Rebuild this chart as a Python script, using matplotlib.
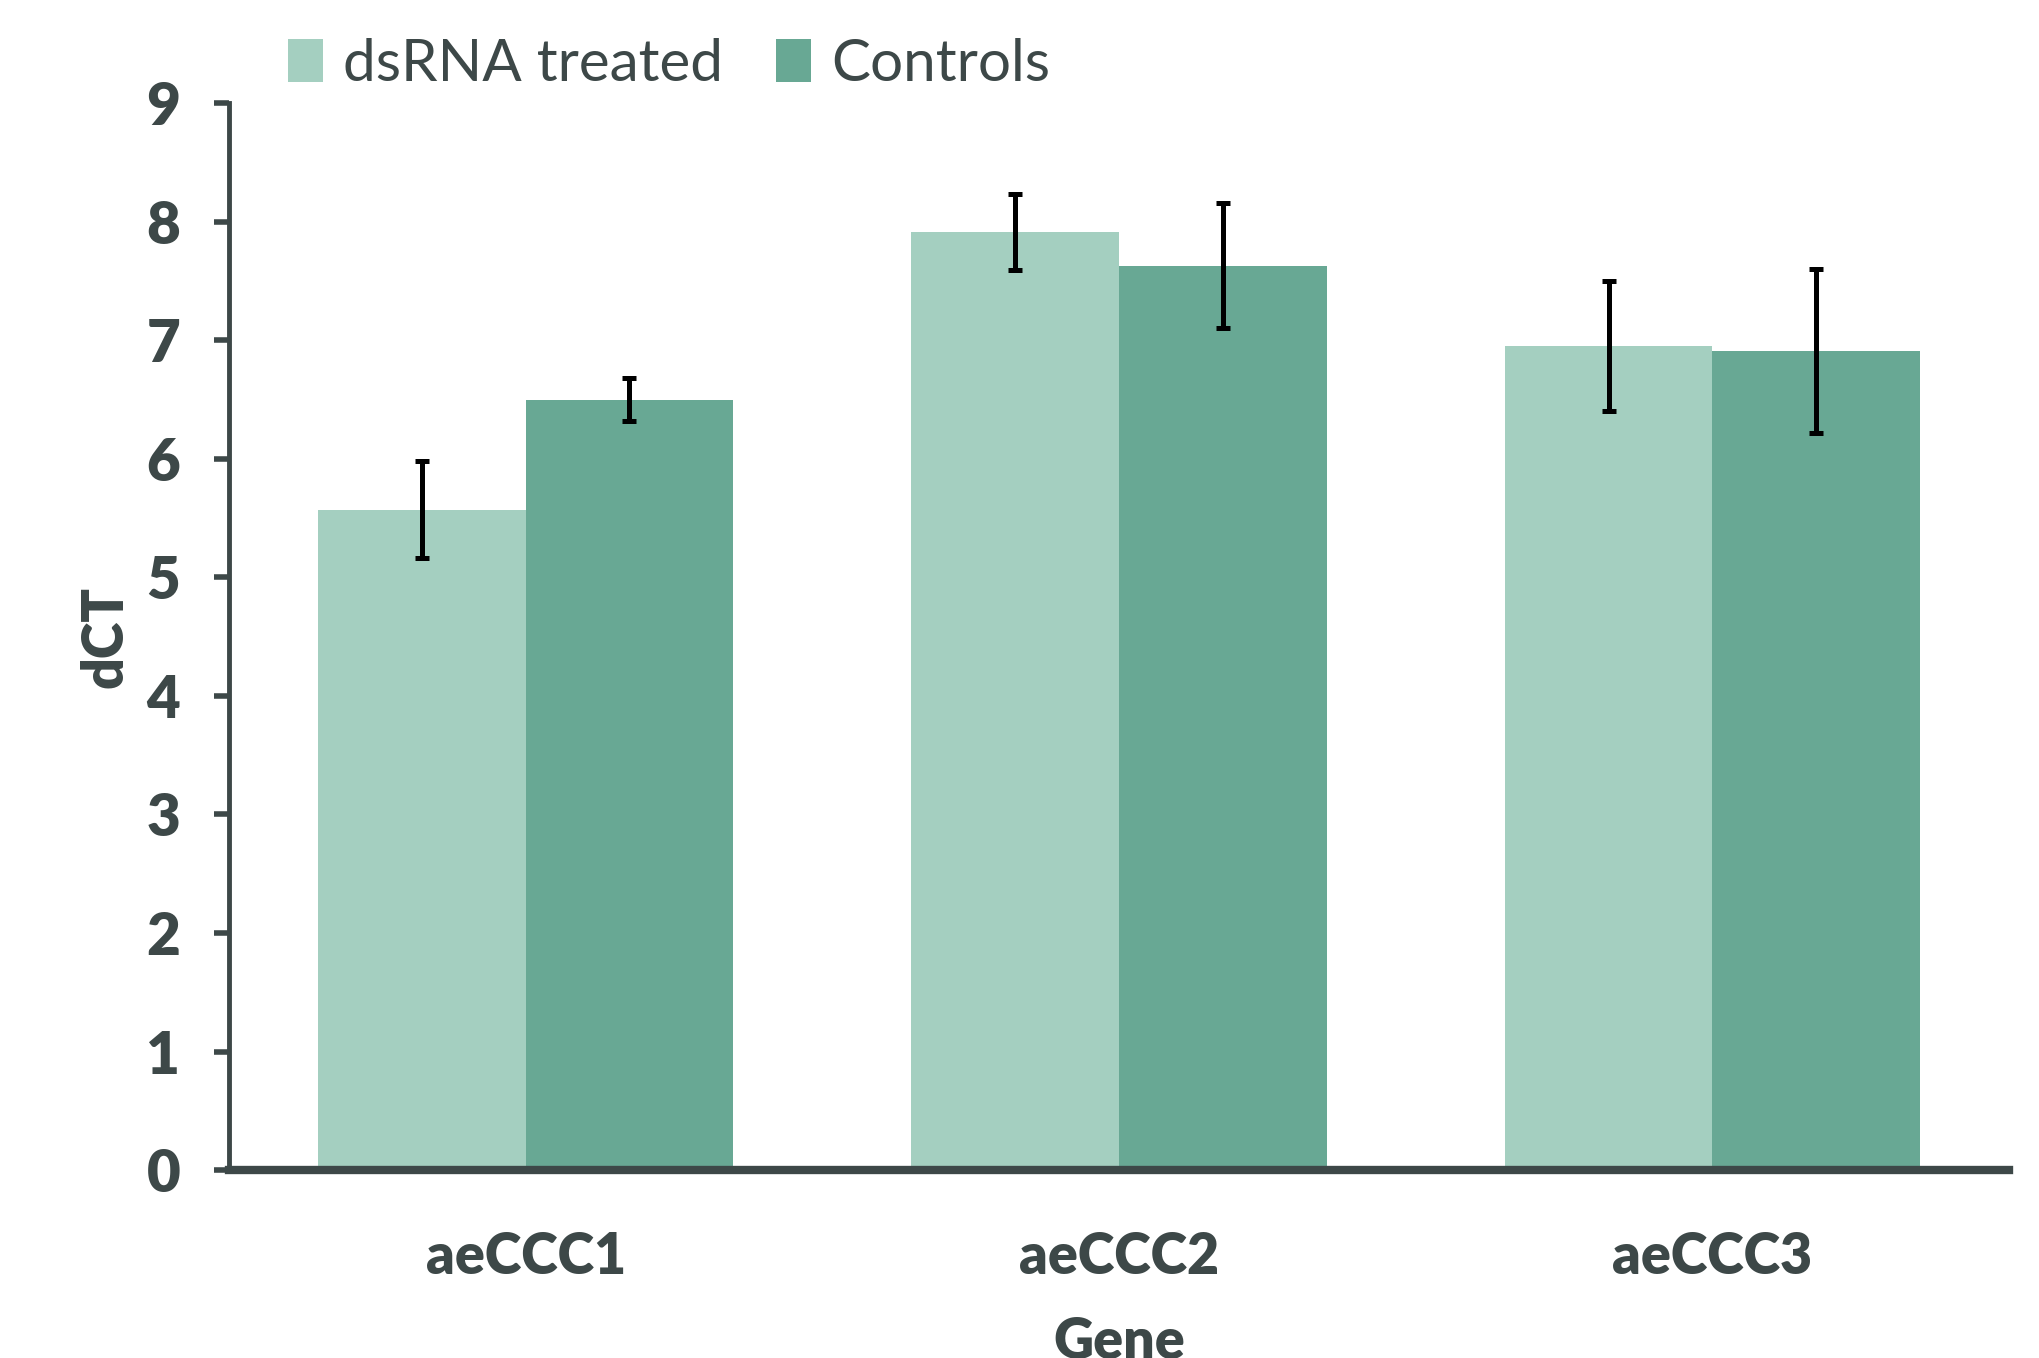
import matplotlib
matplotlib.use("Agg")
import matplotlib.pyplot as plt
import numpy as np

genes = ["aeCCC1", "aeCCC2", "aeCCC3"]
series_names = ["dsRNA treated", "Controls"]
treated = [5.57, 7.91, 6.95]
treated_err = [0.41, 0.32, 0.55]
controls = [6.50, 7.63, 6.91]
controls_err = [0.18, 0.53, 0.69]
yticks = [0, 1, 2, 3, 4, 5, 6, 7, 8, 9]

plt.rcParams['font.family'] = ['Lato', 'DejaVu Sans']
txt = "#3d4848"
c_light = "#a4cfc0"
c_dark = "#68a894"

fig = plt.figure(figsize=(20.39, 13.58), dpi=100)
ax = fig.add_axes([0.1123, 0.1384, 0.873, 0.7856])

x = np.arange(len(genes))
w = 0.35
ax.bar(x - w/2, treated, width=w, color=c_light, label=series_names[0], zorder=2)
ax.bar(x + w/2, controls, width=w, color=c_dark, label=series_names[1], zorder=2)
ax.errorbar(x - w/2, treated, yerr=treated_err, fmt='none', ecolor='black',
            elinewidth=3.6, capsize=5, capthick=3.6, zorder=3)
ax.errorbar(x + w/2, controls, yerr=controls_err, fmt='none', ecolor='black',
            elinewidth=3.6, capsize=5, capthick=3.6, zorder=3)

ax.set_xlim(-0.5, 2.5)
ax.set_ylim(0, 9)
ax.set_yticks(yticks)
ax.set_xticks(x)
ax.set_xticklabels(genes)

for s in ['top', 'right']:
    ax.spines[s].set_visible(False)
ax.spines['left'].set_color(txt)
ax.spines['left'].set_linewidth(3.5)
ax.spines['bottom'].set_color(txt)
ax.spines['bottom'].set_linewidth(6)
ax.spines['bottom'].set_zorder(4)

ax.tick_params(axis='y', length=11, width=4, color=txt, pad=24,
               labelsize=42, labelcolor=txt)
ax.tick_params(axis='x', length=0, pad=44, labelsize=40, labelcolor=txt)
for lab in ax.get_xticklabels() + ax.get_yticklabels():
    lab.set_fontweight('heavy')

ax.set_ylabel("dCT", fontsize=40, fontweight='heavy', color=txt, labelpad=11)
ax.set_xlabel("Gene", fontsize=40, fontweight='heavy', color=txt, labelpad=24)

leg = ax.legend(loc='lower left', bbox_to_anchor=(0.02, 0.99), ncol=2, frameon=False,
                fontsize=42, handlelength=0.6, handleheight=0.75, handletextpad=0.35,
                columnspacing=0.9, borderaxespad=0)
for t in leg.get_texts():
    t.set_color(txt)

fig.savefig("out.png", dpi=100)
